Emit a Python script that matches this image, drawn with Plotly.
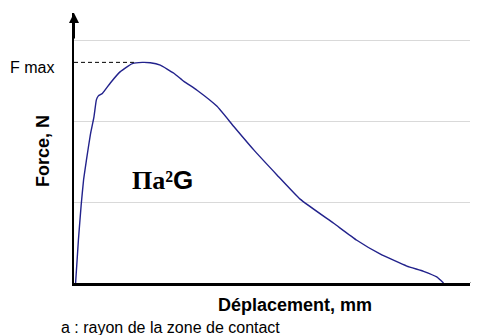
import plotly.graph_objects as go

# Curve data (displacement, force)
deplacement = [0.04, 0.11, 0.18, 0.24, 0.31, 0.41, 0.50, 0.56, 0.61, 0.71, 0.91, 1.16,
               1.46, 1.71, 1.91, 2.16, 2.50, 2.75, 3.08, 3.58, 4.00, 4.50, 5.08, 5.66,
               6.50, 7.08, 7.66, 8.33, 8.75, 9.08, 9.25]
force = [0.00, 0.53, 0.97, 1.28, 1.52, 1.84, 2.06, 2.27, 2.32, 2.35, 2.48, 2.62,
         2.72, 2.735, 2.73, 2.70, 2.60, 2.50, 2.39, 2.19, 1.94, 1.65, 1.34, 1.04,
         0.74, 0.53, 0.36, 0.21, 0.145, 0.075, 0.0]
fmax = 2.735
fmax_dash_x = [0.0, 1.5]
grid_levels = [1, 2, 3]

x_max = 9.9125
y_max = 3.347

SANS = "Liberation Sans, Arial, sans-serif"
SERIF = "Liberation Serif, Times New Roman, serif"

fig = go.Figure()

fig.add_trace(go.Scatter(
    x=deplacement, y=force, mode="lines",
    line=dict(color="#22228c", width=1.4, shape="spline", smoothing=0.4),
    hoverinfo="skip", showlegend=False,
))

fig.add_trace(go.Scatter(
    x=fmax_dash_x, y=[fmax, fmax], mode="lines",
    line=dict(color="black", width=1, dash="4px,3px"),
    hoverinfo="skip", showlegend=False,
))

# page body has an 8px margin: figure is 8px smaller and margins shifted
fig.update_layout(
    width=471, height=327,
    margin=dict(l=65.5, r=9, t=5.3, b=52.3),
    paper_bgcolor="white", plot_bgcolor="white",
    showlegend=False,
    xaxis=dict(range=[0, x_max], showgrid=False, zeroline=False, showticklabels=False,
               ticks="", showline=True, linecolor="black", linewidth=2.5),
    yaxis=dict(range=[0, y_max], tickvals=grid_levels, showgrid=True, gridcolor="#d9d9d9",
               gridwidth=1, zeroline=False, showticklabels=False, ticks="",
               showline=True, linecolor="black", linewidth=2),
)

# gray extension of the x axis beyond the plot area
fig.add_shape(type="line", xref="paper", yref="y", x0=1.0, x1=1.025, y0=0, y1=0,
              line=dict(color="#888888", width=1.5))

# y-axis arrow head
fig.add_annotation(x=0, y=y_max, ax=0, ay=y_max * 0.9, xref="x", yref="y",
                   axref="x", ayref="y", text="", showarrow=True,
                   arrowhead=2, arrowsize=1, arrowwidth=2, arrowcolor="black")

fig.add_annotation(text="F max", xref="paper", yref="y", x=-0.0454, y=2.673,
                   xanchor="right", yanchor="middle", showarrow=False,
                   font=dict(family=SANS, size=16, color="black"))

fig.add_annotation(text="<b>Force, N</b>", xref="paper", yref="y", x=-0.0782, y=1.636,
                   xanchor="center", yanchor="middle", textangle=-90, showarrow=False,
                   font=dict(family=SANS, size=18, color="black"))

fig.add_annotation(text="<b>Déplacement, mm</b>", xref="x", yref="paper", x=5.5375, y=-0.083,
                   xanchor="center", yanchor="middle", showarrow=False,
                   font=dict(family=SANS, size=18, color="black"))

fig.add_annotation(text="a : rayon de la zone de contact", xref="paper", yref="paper",
                   x=-0.0383, y=-0.1644, xanchor="left", yanchor="middle", showarrow=False,
                   font=dict(family=SANS, size=16, color="black"))

fig.add_annotation(
    text=("<b><span style='font-family:" + SERIF + "'>Πa²</span>"
          "<span style='font-family:" + SANS + "'>G</span></b>"),
    xref="x", yref="y", x=2.225, y=1.276, xanchor="center", yanchor="middle",
    showarrow=False, font=dict(family=SERIF, size=26, color="black"))

fig.write_html("out.html")
